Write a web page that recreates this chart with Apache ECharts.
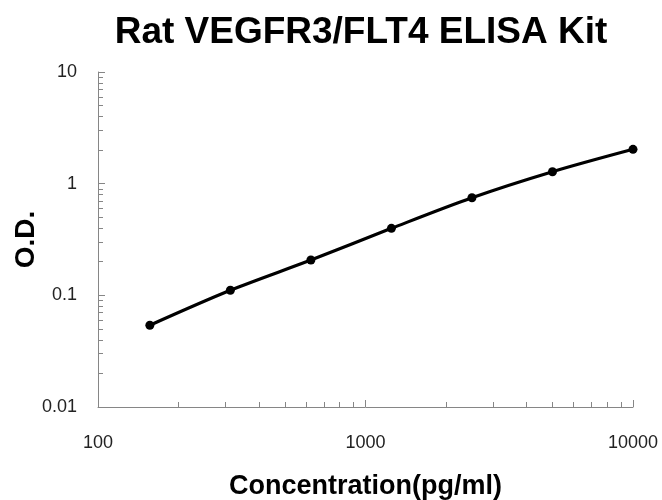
<!DOCTYPE html>
<html>
<head>
<meta charset="utf-8">
<script src="https://cdn.jsdelivr.net/npm/echarts@6/dist/echarts.min.js"></script>
<style>html,body{margin:0;padding:0;background:#fff;}#c{width:662px;height:500px;}</style>
</head>
<body>
<div id="c"></div>
<script>
var concentrations = [156.25, 312.5, 625, 1250, 2500, 5000, 10000];
var odValues = [0.054, 0.111, 0.207, 0.398, 0.748, 1.279, 2.03];
var xMajorTicks = [100, 1000, 10000];
var xMinorTicks = [200, 300, 400, 500, 600, 700, 800, 900, 2000, 3000, 4000, 5000, 6000, 7000, 8000, 9000];
var yMajorTicks = [0.01, 0.1, 1, 10];
var yMinorTicks = [0.02, 0.03, 0.04, 0.05, 0.06, 0.07, 0.08, 0.09, 0.2, 0.3, 0.4, 0.5, 0.6, 0.7, 0.8, 0.9, 2, 3, 4, 5, 6, 7, 8, 9];
var xTickLabels = ['100', '1000', '10000'];
var yTickLabels = ['0.01', '0.1', '1', '10'];

var axisColor = '#868686';
var chart = echarts.init(document.getElementById('c'));
function labelFor(vals, labels) {
  return function (v) {
    for (var i = 0; i < vals.length; i++) {
      if (Math.abs(Math.log10(v) - Math.log10(vals[i])) < 1e-6) return labels[i];
    }
    return '';
  };
}
chart.setOption({
  animation: false,
  backgroundColor: '#fff',
  title: {
    text: 'Rat VEGFR3/FLT4 ELISA Kit',
    left: 356, top: 9, textAlign: 'center',
    textStyle: { fontFamily: 'Liberation Sans, Arial, sans-serif', fontWeight: 'bold', fontSize: 37, color: '#000' }
  },
  grid: { left: 98, right: 29, top: 72, bottom: 93, containLabel: false, outerBoundsMode: 'none' },
  xAxis: [{
    type: 'log', logBase: 10, min: 100, max: 10000,
    name: 'Concentration(pg/ml)', nameLocation: 'middle', nameGap: 66, nameMoveOverlap: false,
    nameTextStyle: { fontFamily: 'Liberation Sans, Arial, sans-serif', fontWeight: 'bold', fontSize: 27, color: '#000' },
    axisLine: { show: true, lineStyle: { color: axisColor, width: 1 } },
    axisTick: { show: true, inside: true, length: 7, lineStyle: { color: axisColor }, customValues: xMajorTicks },
    axisLabel: { show: true, margin: 27, fontFamily: 'Liberation Sans, Arial, sans-serif', fontSize: 18, color: '#222', customValues: xMajorTicks, formatter: labelFor(xMajorTicks, xTickLabels) },
    splitLine: { show: false }, minorTick: { show: false }
  }, {
    type: 'log', logBase: 10, min: 100, max: 10000, position: 'bottom',
    axisLine: { show: false },
    axisTick: { show: true, inside: true, length: 5, lineStyle: { color: axisColor }, customValues: xMinorTicks },
    axisLabel: { show: false }, splitLine: { show: false }
  }],
  yAxis: [{
    type: 'log', logBase: 10, min: 0.01, max: 10,
    name: 'O.D.', nameLocation: 'middle', nameGap: 58, nameRotate: 90, nameMoveOverlap: false,
    nameTextStyle: { fontFamily: 'Liberation Sans, Arial, sans-serif', fontWeight: 'bold', fontSize: 28, color: '#000' },
    axisLine: { show: true, lineStyle: { color: axisColor, width: 1 } },
    axisTick: { show: true, inside: true, length: 7, lineStyle: { color: axisColor }, customValues: yMajorTicks },
    axisLabel: { show: true, margin: 21, fontFamily: 'Liberation Sans, Arial, sans-serif', fontSize: 18, color: '#222', customValues: yMajorTicks, formatter: labelFor(yMajorTicks, yTickLabels) },
    splitLine: { show: false }, minorTick: { show: false }
  }, {
    type: 'log', logBase: 10, min: 0.01, max: 10, position: 'left',
    axisLine: { show: false },
    axisTick: { show: true, inside: true, length: 5, lineStyle: { color: axisColor }, customValues: yMinorTicks },
    axisLabel: { show: false }, splitLine: { show: false }
  }],
  series: [{
    type: 'line',
    data: concentrations.map(function (c, i) { return [c, odValues[i]]; }),
    smooth: 0.3,
    symbol: 'circle', symbolSize: 9,
    itemStyle: { color: '#000' },
    lineStyle: { color: '#000', width: 3.2 }
  }]
});
</script>
</body>
</html>
